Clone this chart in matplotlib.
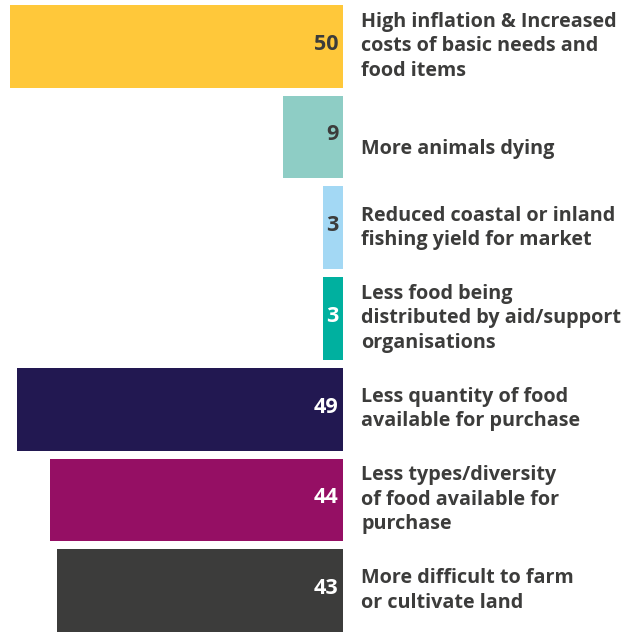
import matplotlib
matplotlib.use("Agg")
import matplotlib.pyplot as plt

categories = [
    "High inflation & Increased\ncosts of basic needs and\nfood items",
    "\nMore animals dying",
    "Reduced coastal or inland\nfishing yield for market",
    "Less food being\ndistributed by aid/support\norganisations",
    "Less quantity of food\navailable for purchase",
    "Less types/diversity\nof food available for\npurchase",
    "More difficult to farm\nor cultivate land",
]
values = [50, 9, 3, 3, 49, 44, 43]
colors = ["#FFC83A", "#8ECDC5", "#A3D8F4", "#00B09F", "#221851", "#950F64", "#3C3C3B"]
value_colors = ["#3C3C3B", "#3C3C3B", "#3C3C3B", "#FFFFFF", "#FFFFFF", "#FFFFFF", "#FFFFFF"]

plt.rcParams['font.family'] = ['Open Sans', 'DejaVu Sans']

fig = plt.figure(figsize=(6.4, 6.32), dpi=100)
W, H = 640, 632
ax = fig.add_axes([10 / W, 0, 333 / W, 627 / H])
ypos = list(range(len(values)))
ax.barh(ypos, values, height=0.912, color=colors)
ax.set_xlim(50, 0)
ax.set_ylim(len(values) - 1 + 0.456, -0.456)
ax.axis("off")

for y, v, tc, lab in zip(ypos, values, value_colors, categories):
    ax.annotate(str(v), xy=(0, y), xytext=(-3, 1.5), textcoords="offset points",
                ha="right", va="center", fontsize=15.5, fontweight="bold", color=tc)
    ax.annotate(lab, xy=(0, y), xytext=(13, 0), textcoords="offset points",
                ha="left", va="center", fontsize=14.2, fontweight="bold",
                color="#3C3C3B", linespacing=1.3, annotation_clip=False)

fig.savefig("out.png", dpi=100)
